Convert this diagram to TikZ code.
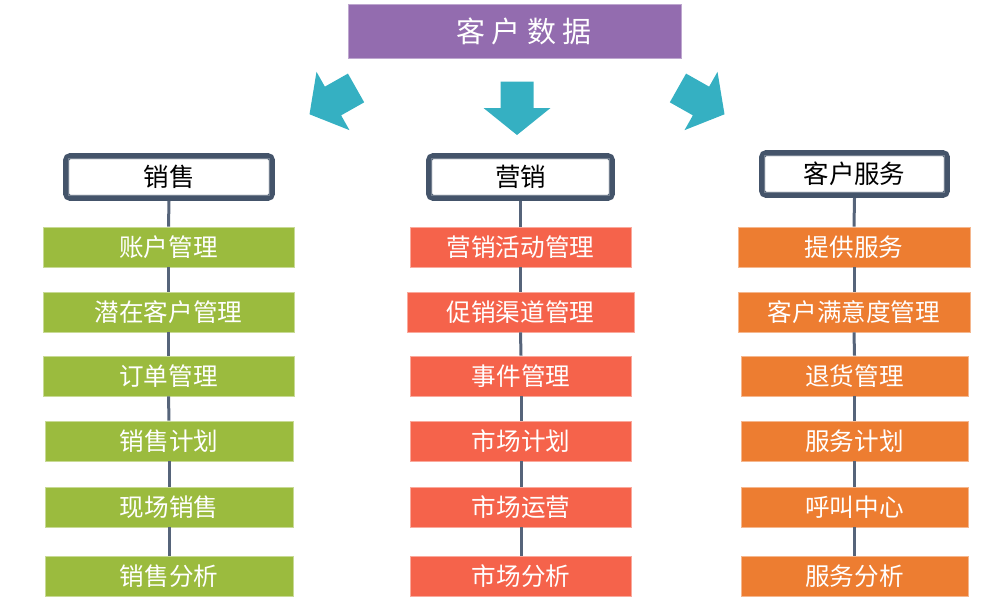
\documentclass[tikz,border=0pt]{standalone}
\usepackage{fontspec}
\setmainfont{Noto Sans CJK SC}
\usepackage{tikz}
\usetikzlibrary{positioning}
\usepackage{xcolor}
\definecolor{titlepurple}{RGB}{147,108,175}
\definecolor{arrowteal}{RGB}{53,176,194}
\definecolor{salesgreen}{RGB}{155,187,62}
\definecolor{mktred}{RGB}{245,99,75}
\definecolor{svcorange}{RGB}{237,125,49}
\definecolor{slate}{RGB}{68,84,106}
\definecolor{linkslate}{RGB}{86,100,122}

\begin{document}
\begin{tikzpicture}[x=0.02cm, y=-0.02cm,
    item/.style={minimum height=0.8cm, inner sep=0pt, text=white,
                 line width=0.4pt, font=\fontsize{14}{17}\selectfont},
    sales/.style={item, fill=salesgreen, draw=salesgreen!55!white, minimum width=5.02cm},
    mkt/.style={item, fill=mktred, draw=mktred!55!white, minimum width=4.42cm},
    svc/.style={item, fill=svcorange, draw=svcorange!55!white, minimum width=4.64cm},
    head/.style={draw=slate, line width=0.12cm, rounded corners=2.5pt, fill=white,
                 minimum height=0.84cm, inner sep=0pt, text=black,
                 font=\fontsize{14.5}{17}\selectfont},
    link/.style={draw=linkslate, line width=0.06cm}]
  \useasboundingbox (0,0) rectangle (1004,605);

  % top box
  \node[fill=titlepurple, draw=titlepurple!60!white, line width=0.4pt,
        minimum width=6.66cm, minimum height=1.08cm, text=white,
        font=\fontsize{16.5}{19}\selectfont] (data) at (514.5,31)
        {\hspace*{11pt}客 户 数 据};

  % the three arrows
  \foreach \px/\py/\ang in {333/101/209.5, 517/108/-90, 701/101/-29.5}
    \fill[arrowteal, shift={(\px,\py)}, rotate=\ang]
      (-26.5,-16.5) -- (0,-16.5) -- (0,-33.5) -- (27,0) -- (0,33.5)
      -- (0,16.5) -- (-26.5,16.5) -- cycle;

  % headers
  \node[head, minimum width=4.12cm] (salesHead) at (169,177) {销售};
  \node[head, minimum width=3.66cm] (mktHead) at (520.5,177) {营销};
  \node[head, minimum width=3.70cm] (svcHead) at (854.5,174) {客户服务};
  \foreach \h in {salesHead, mktHead, svcHead}
    \draw[slate!75, line width=0.85pt]
      ([shift={(0.105cm,-0.105cm)}]\h.north west) rectangle
      ([shift={(-0.105cm,0.105cm)}]\h.south east);

  % sales column
  \node[sales] (s1) at (168.5,247) {账户管理};
  \node[sales] (s2) at (168.5,312) {潜在客户管理};
  \node[sales] (s3) at (168.5,376) {订单管理};
  \node[sales, minimum width=4.96cm] (s4) at (169,441) {销售计划};
  \node[sales, minimum width=4.96cm] (s5) at (169,507) {现场销售};
  \node[sales, minimum width=4.96cm] (s6) at (169,576) {销售分析};

  % marketing column
  \node[mkt] (m1) at (520.5,247) {营销活动管理};
  \node[mkt, minimum width=4.54cm] (m2) at (520.5,312) {促销渠道管理};
  \node[mkt] (m3) at (521,376) {事件管理};
  \node[mkt] (m4) at (521,441) {市场计划};
  \node[mkt] (m5) at (521,507) {市场运营};
  \node[mkt] (m6) at (521,576) {市场分析};

  % service column
  \node[svc] (r1) at (854,247) {提供服务};
  \node[svc] (r2) at (854,312) {客户满意度管理};
  \node[svc, minimum width=4.54cm] (r3) at (854.5,376) {退货管理};
  \node[svc, minimum width=4.54cm] (r4) at (854.5,441) {服务计划};
  \node[svc, minimum width=4.54cm] (r5) at (854.5,507) {呼叫中心};
  \node[svc, minimum width=4.54cm] (r6) at (854.5,576) {服务分析};

  % vertical links
  \foreach \a/\b in {salesHead/s1, s1/s2, s2/s3, s3/s4, s4/s5, s5/s6,
                     mktHead/m1, m1/m2, m2/m3, m3/m4, m4/m5, m5/m6,
                     svcHead/r1, r1/r2, r2/r3, r3/r4, r4/r5, r5/r6}
    \draw[link] (\a.south) -- (\b.north);
\end{tikzpicture}
\end{document}
